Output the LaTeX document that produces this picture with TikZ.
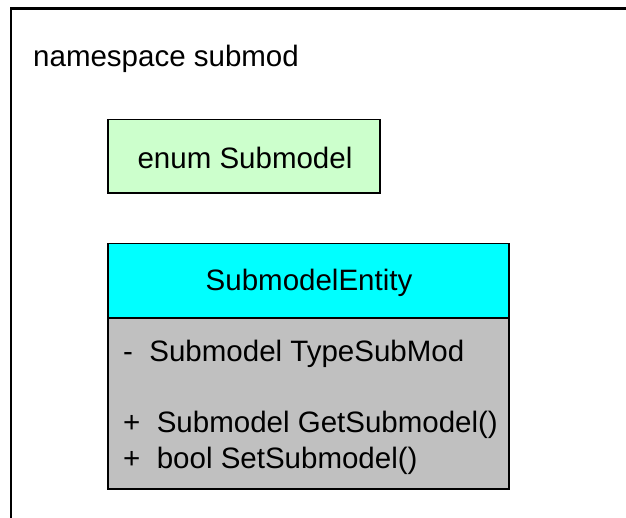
\documentclass[tikz,border=0pt]{standalone}
\usepackage{fontspec}
\setmainfont{Liberation Sans}
\definecolor{enumgreen}{HTML}{CCFFCC}
\definecolor{headcyan}{HTML}{00FFFF}
\definecolor{bodygray}{HTML}{C0C0C0}
\begin{document}
\begin{tikzpicture}[x=1pt,y=-1pt,
  every node/.style={font=\fontsize{29.5}{36}\selectfont},
  box/.style={draw=black, line width=1.6pt, inner sep=0pt, outer sep=0pt},
  enumbox/.style={box, fill=enumgreen, minimum width=272pt, minimum height=73.4pt},
  headbox/.style={box, fill=headcyan, minimum width=401pt, minimum height=74.7pt},
  bodybox/.style={box, fill=bodygray, minimum width=401pt, minimum height=171pt},
  lbl/.style={inner sep=0pt, anchor=base west},
  ctr/.style={inner sep=0pt, anchor=base},
  frame/.style={draw=black, line width=2.3pt}]
\useasboundingbox (0,0) rectangle (626,517);
\clip (0,0) rectangle (626,517);
\fill[white] (0,0) rectangle (626,517);
% namespace frame
\coordinate (nsbl) at (11,540);
\coordinate (nstl) at (11,8.5);
\coordinate (nstr) at (650,8.5);
\draw[frame] (nsbl) -- (nstl) -- (nstr);
\node[lbl] (nslabel) at (33,66) {namespace submod};
% enum
\node[enumbox] (enum) at (244,156) {};
\node[ctr] (enumtext) at (245,168) {enum Submodel};
% class
\node[headbox] (head) at (308.5,280.65) {};
\node[bodybox] (body) at (308.5,403.5) {};
\node[ctr] (headtext) at (309,290) {SubmodelEntity};
\node[lbl] (attr) at (123,361.5) {-\ \ Submodel TypeSubMod};
\node[lbl] (m1) at (123,432.5) {+\ \ Submodel GetSubmodel()};
\node[lbl] (m2) at (123,468.5) {+\ \ bool SetSubmodel()};
\end{tikzpicture}
\end{document}
